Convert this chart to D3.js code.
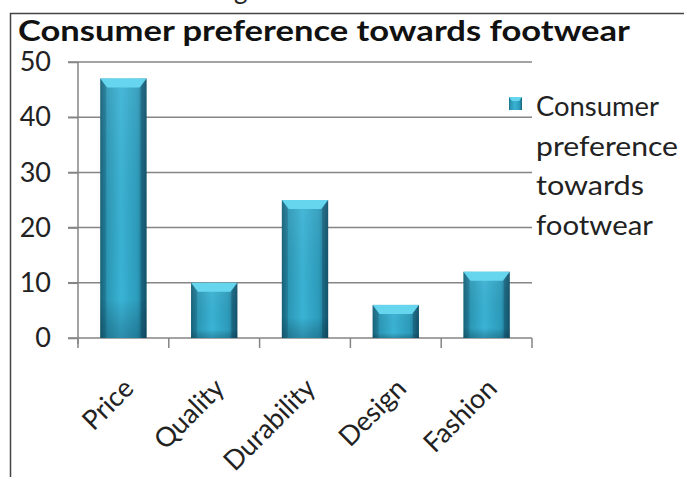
<!DOCTYPE html>
<html><head><meta charset="utf-8">
<script src="https://cdn.jsdelivr.net/npm/d3@7"></script>
<style>body{margin:0;background:#fff}svg{display:block}</style>
</head><body>
<svg id="c" width="684" height="477"></svg>
<script>
const categories = ["Price","Quality","Durability","Design","Fashion"];
const values = [47,10,25,6,12];
const yTicks = [0,10,20,30,40,50];
const title = "Consumer preference towards footwear";
const legendLines = ["Consumer","preference","towards","footwear"];

const svg = d3.select("#c");
const font = "Lato, 'Open Sans', sans-serif";

// outer frame
svg.append("path").attr("d","M10.5,477 V13.5 H684").attr("fill","none").attr("stroke","#444").attr("stroke-width",1.5);
// cut-off text above frame (as in the reference)
svg.append("text").attr("x",234).attr("y",-1).attr("font-family",font).attr("font-size",26).attr("fill","#222").text("g");

svg.append("text").attr("x",18).attr("y",41).attr("font-family",font).attr("font-weight","bold")
  .attr("font-size",28).attr("fill","#111").attr("textLength",612).attr("lengthAdjust","spacingAndGlyphs").text(title);

const x = d3.scaleBand().domain(categories).range([78,532]).paddingInner(0.49).paddingOuter(0.245);
const y = d3.scaleLinear().domain([0,50]).range([338,62]);

const defs = svg.append("defs");
const g = defs.append("linearGradient").attr("id","barG").attr("x1","0").attr("x2","1").attr("y1","0").attr("y2","0");
[[0,"#1b6f88"],[0.12,"#2a95b3"],[0.45,"#3ab3d5"],[0.8,"#2c9cbc"],[1,"#17607a"]].forEach(s=>g.append("stop").attr("offset",s[0]).attr("stop-color",s[1]));
const gv = defs.append("linearGradient").attr("id","barV").attr("x1","0").attr("x2","0").attr("y1","0").attr("y2","1");
[[0,"rgba(255,255,255,0.08)"],[0.85,"rgba(0,0,0,0)"],[1,"rgba(0,30,50,0.25)"]].forEach(s=>gv.append("stop").attr("offset",s[0]).attr("stop-color",s[1]));

// gridlines
svg.append("g").selectAll("line").data(yTicks.filter(t=>t>0)).join("line")
  .attr("x1",68).attr("x2",532).attr("y1",d=>y(d)).attr("y2",d=>y(d))
  .attr("stroke","#858585").attr("stroke-width",1.5);

// y axis
const ya = svg.append("g").attr("transform","translate(78,0)").call(d3.axisLeft(y).tickValues(yTicks).tickSize(10).tickPadding(17));
ya.select(".domain").attr("stroke","#858585").attr("stroke-width",1.5).attr("d","M0,62V344");
ya.selectAll(".tick line").attr("stroke","#858585").attr("stroke-width",1.5);
ya.selectAll("text").attr("font-family",font).attr("font-size",27).attr("fill","#222");

// x axis
const xa = svg.append("g").attr("transform","translate(0,338)");
xa.append("line").attr("x1",68).attr("x2",532).attr("stroke","#858585").attr("stroke-width",1.5);
const edges = categories.map(c=>x(c)-x.step()*x.paddingInner()/2).concat([532]);
xa.selectAll("line.t").data(edges).join("line").attr("class","t")
  .attr("x1",d=>d).attr("x2",d=>d).attr("y1",0).attr("y2",10).attr("stroke","#858585").attr("stroke-width",1.5);
xa.selectAll("text").data(categories).join("text")
  .attr("transform",d=>`translate(${x(d)+x.bandwidth()/2+12},${52}) rotate(-45)`)
  .attr("text-anchor","end").attr("font-family",font).attr("font-size",27).attr("fill","#222").text(d=>d);

// bars
const bars = svg.append("g").selectAll("g").data(values).join("g");
bars.append("rect").attr("x",(d,i)=>x(categories[i])).attr("y",d=>y(d)).attr("width",x.bandwidth()).attr("height",d=>y(0)-y(d)).attr("fill","url(#barG)");
bars.append("rect").attr("x",(d,i)=>x(categories[i])).attr("y",d=>y(d)).attr("width",x.bandwidth()).attr("height",d=>y(0)-y(d)).attr("fill","url(#barV)");
bars.append("path").attr("d",(d,i)=>{const x0=x(categories[i]),w=x.bandwidth(),t=y(d);return `M${x0},${t}H${x0+w}L${x0+w-7},${t+9}H${x0+7}Z`;}).attr("fill","#66d6ef");
bars.append("path").attr("d",(d,i)=>{const x0=x(categories[i]),w=x.bandwidth(),t=y(d);return `M${x0},${t}L${x0+6},${t+9}V${y(0)}H${x0}Z`;}).attr("fill","rgba(10,60,80,0.25)");
bars.append("path").attr("d",(d,i)=>{const x0=x(categories[i]),w=x.bandwidth(),t=y(d);return `M${x0+w},${t}L${x0+w-6},${t+9}V${y(0)}H${x0+w}Z`;}).attr("fill","rgba(10,50,70,0.3)");

// legend
svg.append("rect").attr("x",509).attr("y",97).attr("width",13).attr("height",13).attr("fill","url(#barG)");
svg.append("path").attr("d","M509,97H522L519,101H512Z").attr("fill","#66d6ef");
svg.append("text").attr("font-family",font).attr("font-size",26).attr("fill","#222")
  .selectAll("tspan").data(legendLines).join("tspan").attr("x",536).attr("y",(d,i)=>116+i*39.5)
  .attr("textLength",(d,i)=>[123,142,108,117][i]).attr("lengthAdjust","spacingAndGlyphs").text(d=>d);
</script>
</body></html>
